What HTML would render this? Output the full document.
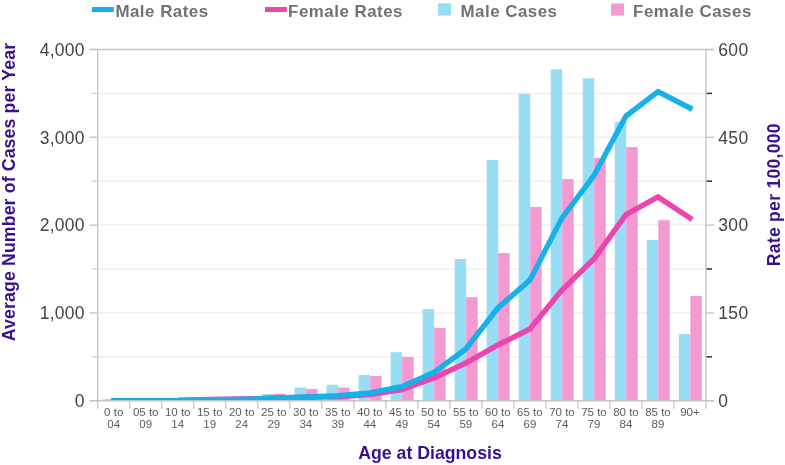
<!DOCTYPE html>
<html><head><meta charset="utf-8"><style>
html,body{margin:0;padding:0;background:#fff;}
body{width:785px;height:465px;overflow:hidden;}
svg{display:block;will-change:transform;}
text{font-family:"Liberation Sans",sans-serif;}
</style></head><body>
<svg width="785" height="465" viewBox="0 0 785 465">

<line x1="97.7" y1="356.8" x2="706" y2="356.8" stroke="#efefef" stroke-width="1.5"/>
<line x1="97.7" y1="312.9" x2="706" y2="312.9" stroke="#efefef" stroke-width="1.5"/>
<line x1="97.7" y1="269" x2="706" y2="269" stroke="#efefef" stroke-width="1.5"/>
<line x1="97.7" y1="225.1" x2="706" y2="225.1" stroke="#efefef" stroke-width="1.5"/>
<line x1="97.7" y1="181.2" x2="706" y2="181.2" stroke="#efefef" stroke-width="1.5"/>
<line x1="97.7" y1="137.3" x2="706" y2="137.3" stroke="#efefef" stroke-width="1.5"/>
<line x1="97.7" y1="93.4" x2="706" y2="93.4" stroke="#efefef" stroke-width="1.5"/>
<line x1="89.7" y1="49.5" x2="714" y2="49.5" stroke="#c6c6c6" stroke-width="1.4"/>
<rect x="102.5" y="399.12" width="11.5" height="1.58" fill="#97ddf5"/>
<rect x="114" y="399.65" width="11.5" height="1.05" fill="#f49ad2"/>
<rect x="134.52" y="400" width="11.5" height="0.7" fill="#97ddf5"/>
<rect x="146.02" y="400.17" width="11.5" height="0.53" fill="#f49ad2"/>
<rect x="166.53" y="400" width="11.5" height="0.7" fill="#97ddf5"/>
<rect x="178.03" y="400" width="11.5" height="0.7" fill="#f49ad2"/>
<rect x="198.55" y="399.38" width="11.5" height="1.32" fill="#97ddf5"/>
<rect x="210.05" y="398.94" width="11.5" height="1.76" fill="#f49ad2"/>
<rect x="230.56" y="398.07" width="11.5" height="2.63" fill="#97ddf5"/>
<rect x="242.06" y="397.19" width="11.5" height="3.51" fill="#f49ad2"/>
<rect x="262.58" y="394.03" width="11.5" height="6.67" fill="#97ddf5"/>
<rect x="274.08" y="393.68" width="11.5" height="7.02" fill="#f49ad2"/>
<rect x="294.59" y="387.53" width="11.5" height="13.17" fill="#97ddf5"/>
<rect x="306.09" y="388.93" width="11.5" height="11.77" fill="#f49ad2"/>
<rect x="326.61" y="384.81" width="11.5" height="15.89" fill="#97ddf5"/>
<rect x="338.11" y="387.53" width="11.5" height="13.17" fill="#f49ad2"/>
<rect x="358.63" y="374.97" width="11.5" height="25.73" fill="#97ddf5"/>
<rect x="370.13" y="376.03" width="11.5" height="24.67" fill="#f49ad2"/>
<rect x="390.64" y="352.15" width="11.5" height="48.55" fill="#97ddf5"/>
<rect x="402.14" y="357.06" width="11.5" height="43.64" fill="#f49ad2"/>
<rect x="422.66" y="308.95" width="11.5" height="91.75" fill="#97ddf5"/>
<rect x="434.16" y="327.83" width="11.5" height="72.87" fill="#f49ad2"/>
<rect x="454.67" y="258.99" width="11.5" height="141.71" fill="#97ddf5"/>
<rect x="466.17" y="297.27" width="11.5" height="103.43" fill="#f49ad2"/>
<rect x="486.69" y="160.04" width="11.5" height="240.66" fill="#97ddf5"/>
<rect x="498.19" y="253.02" width="11.5" height="147.68" fill="#f49ad2"/>
<rect x="518.71" y="93.84" width="11.5" height="306.86" fill="#97ddf5"/>
<rect x="530.21" y="207.01" width="11.5" height="193.69" fill="#f49ad2"/>
<rect x="550.72" y="69.34" width="11.5" height="331.36" fill="#97ddf5"/>
<rect x="562.22" y="179" width="11.5" height="221.69" fill="#f49ad2"/>
<rect x="582.74" y="78.3" width="11.5" height="322.4" fill="#97ddf5"/>
<rect x="594.24" y="157.93" width="11.5" height="242.77" fill="#f49ad2"/>
<rect x="614.75" y="122.02" width="11.5" height="278.68" fill="#97ddf5"/>
<rect x="626.25" y="147.05" width="11.5" height="253.65" fill="#f49ad2"/>
<rect x="646.77" y="240.03" width="11.5" height="160.67" fill="#97ddf5"/>
<rect x="658.27" y="220.18" width="11.5" height="180.52" fill="#f49ad2"/>
<rect x="678.78" y="333.97" width="11.5" height="66.73" fill="#97ddf5"/>
<rect x="690.28" y="296.04" width="11.5" height="104.66" fill="#f49ad2"/>
<defs><clipPath id="pc"><rect x="0" y="0" width="785" height="400.3"/></clipPath></defs><g clip-path="url(#pc)">
<polyline points="113.71,400.58 145.72,400.58 177.74,400.47 209.76,399.35 241.77,399.06 273.79,398.07 305.8,397.31 337.82,396.9 369.83,394.61 401.85,389.58 433.87,377.99 465.88,363 497.9,344.98 529.91,329 561.93,290.07 593.94,259.05 625.96,214.56 657.98,197 689.99,218.08" fill="none" stroke="#ea46ae" stroke-width="5.4" stroke-linejoin="miter" stroke-linecap="square"/>
<polyline points="113.71,400.58 145.72,400.58 177.74,400.52 209.76,399.65 241.77,399.35 273.79,398.36 305.8,397.01 337.82,395.78 369.83,392.97 401.85,386.65 433.87,372.43 465.88,349.02 497.9,307.98 529.91,280.12 561.93,218.08 593.94,175.58 625.96,115.99 657.98,91.64 689.99,108.03" fill="none" stroke="#18b0e8" stroke-width="5.4" stroke-linejoin="miter" stroke-linecap="square"/>
</g>
<line x1="97.7" y1="49.5" x2="97.7" y2="408.7" stroke="#c6c6c6" stroke-width="1.4"/>
<line x1="706" y1="49.5" x2="706" y2="408.7" stroke="#c6c6c6" stroke-width="1.4"/>
<line x1="89.7" y1="400.7" x2="714" y2="400.7" stroke="#c6c6c6" stroke-width="1.4"/>
<line x1="89.7" y1="400.7" x2="97.7" y2="400.7" stroke="#c6c6c6" stroke-width="1.4"/>
<line x1="91.7" y1="356.8" x2="97.7" y2="356.8" stroke="#cdcdcd" stroke-width="1.3"/>
<line x1="89.7" y1="312.9" x2="97.7" y2="312.9" stroke="#c6c6c6" stroke-width="1.4"/>
<line x1="91.7" y1="269" x2="97.7" y2="269" stroke="#cdcdcd" stroke-width="1.3"/>
<line x1="89.7" y1="225.1" x2="97.7" y2="225.1" stroke="#c6c6c6" stroke-width="1.4"/>
<line x1="91.7" y1="181.2" x2="97.7" y2="181.2" stroke="#cdcdcd" stroke-width="1.3"/>
<line x1="89.7" y1="137.3" x2="97.7" y2="137.3" stroke="#c6c6c6" stroke-width="1.4"/>
<line x1="91.7" y1="93.4" x2="97.7" y2="93.4" stroke="#cdcdcd" stroke-width="1.3"/>
<line x1="89.7" y1="49.5" x2="97.7" y2="49.5" stroke="#c6c6c6" stroke-width="1.4"/>
<line x1="706" y1="400.7" x2="714" y2="400.7" stroke="#c6c6c6" stroke-width="1.4"/>
<line x1="706.7" y1="356.8" x2="712" y2="356.8" stroke="#383070" stroke-width="1.6"/>
<line x1="706" y1="312.9" x2="714" y2="312.9" stroke="#c6c6c6" stroke-width="1.4"/>
<line x1="706.7" y1="269" x2="712" y2="269" stroke="#383070" stroke-width="1.6"/>
<line x1="706" y1="225.1" x2="714" y2="225.1" stroke="#c6c6c6" stroke-width="1.4"/>
<line x1="706.7" y1="181.2" x2="712" y2="181.2" stroke="#383070" stroke-width="1.6"/>
<line x1="706" y1="137.3" x2="714" y2="137.3" stroke="#c6c6c6" stroke-width="1.4"/>
<line x1="706.7" y1="93.4" x2="712" y2="93.4" stroke="#383070" stroke-width="1.6"/>
<line x1="706" y1="49.5" x2="714" y2="49.5" stroke="#c6c6c6" stroke-width="1.4"/>
<line x1="129.72" y1="400.7" x2="129.72" y2="408.7" stroke="#c6c6c6" stroke-width="1.4"/>
<line x1="161.73" y1="400.7" x2="161.73" y2="408.7" stroke="#c6c6c6" stroke-width="1.4"/>
<line x1="193.75" y1="400.7" x2="193.75" y2="408.7" stroke="#c6c6c6" stroke-width="1.4"/>
<line x1="225.76" y1="400.7" x2="225.76" y2="408.7" stroke="#c6c6c6" stroke-width="1.4"/>
<line x1="257.78" y1="400.7" x2="257.78" y2="408.7" stroke="#c6c6c6" stroke-width="1.4"/>
<line x1="289.79" y1="400.7" x2="289.79" y2="408.7" stroke="#c6c6c6" stroke-width="1.4"/>
<line x1="321.81" y1="400.7" x2="321.81" y2="408.7" stroke="#c6c6c6" stroke-width="1.4"/>
<line x1="353.83" y1="400.7" x2="353.83" y2="408.7" stroke="#c6c6c6" stroke-width="1.4"/>
<line x1="385.84" y1="400.7" x2="385.84" y2="408.7" stroke="#c6c6c6" stroke-width="1.4"/>
<line x1="417.86" y1="400.7" x2="417.86" y2="408.7" stroke="#c6c6c6" stroke-width="1.4"/>
<line x1="449.87" y1="400.7" x2="449.87" y2="408.7" stroke="#c6c6c6" stroke-width="1.4"/>
<line x1="481.89" y1="400.7" x2="481.89" y2="408.7" stroke="#c6c6c6" stroke-width="1.4"/>
<line x1="513.91" y1="400.7" x2="513.91" y2="408.7" stroke="#c6c6c6" stroke-width="1.4"/>
<line x1="545.92" y1="400.7" x2="545.92" y2="408.7" stroke="#c6c6c6" stroke-width="1.4"/>
<line x1="577.94" y1="400.7" x2="577.94" y2="408.7" stroke="#c6c6c6" stroke-width="1.4"/>
<line x1="609.95" y1="400.7" x2="609.95" y2="408.7" stroke="#c6c6c6" stroke-width="1.4"/>
<line x1="641.97" y1="400.7" x2="641.97" y2="408.7" stroke="#c6c6c6" stroke-width="1.4"/>
<line x1="673.98" y1="400.7" x2="673.98" y2="408.7" stroke="#c6c6c6" stroke-width="1.4"/>
<text x="84.6" y="406.9" font-size="17.5" letter-spacing="0.2" fill="#444444" text-anchor="end">0</text>
<text x="84.6" y="319.1" font-size="17.5" letter-spacing="0.2" fill="#444444" text-anchor="end">1,000</text>
<text x="84.6" y="231.3" font-size="17.5" letter-spacing="0.2" fill="#444444" text-anchor="end">2,000</text>
<text x="84.6" y="143.5" font-size="17.5" letter-spacing="0.2" fill="#444444" text-anchor="end">3,000</text>
<text x="84.6" y="55.7" font-size="17.5" letter-spacing="0.2" fill="#444444" text-anchor="end">4,000</text>
<text x="718.2" y="406.9" font-size="17.5" letter-spacing="0.4" fill="#444444">0</text>
<text x="718.2" y="319.1" font-size="17.5" letter-spacing="0.4" fill="#444444">150</text>
<text x="718.2" y="231.3" font-size="17.5" letter-spacing="0.4" fill="#444444">300</text>
<text x="718.2" y="143.5" font-size="17.5" letter-spacing="0.4" fill="#444444">450</text>
<text x="718.2" y="55.7" font-size="17.5" letter-spacing="0.4" fill="#444444">600</text>
<text x="113.71" y="415.8" font-size="11.5" fill="#5c5c5c" text-anchor="middle">0 to</text>
<text x="113.71" y="428.2" font-size="11.5" fill="#5c5c5c" text-anchor="middle">04</text>
<text x="145.72" y="415.8" font-size="11.5" fill="#5c5c5c" text-anchor="middle">05 to</text>
<text x="145.72" y="428.2" font-size="11.5" fill="#5c5c5c" text-anchor="middle">09</text>
<text x="177.74" y="415.8" font-size="11.5" fill="#5c5c5c" text-anchor="middle">10 to</text>
<text x="177.74" y="428.2" font-size="11.5" fill="#5c5c5c" text-anchor="middle">14</text>
<text x="209.76" y="415.8" font-size="11.5" fill="#5c5c5c" text-anchor="middle">15 to</text>
<text x="209.76" y="428.2" font-size="11.5" fill="#5c5c5c" text-anchor="middle">19</text>
<text x="241.77" y="415.8" font-size="11.5" fill="#5c5c5c" text-anchor="middle">20 to</text>
<text x="241.77" y="428.2" font-size="11.5" fill="#5c5c5c" text-anchor="middle">24</text>
<text x="273.79" y="415.8" font-size="11.5" fill="#5c5c5c" text-anchor="middle">25 to</text>
<text x="273.79" y="428.2" font-size="11.5" fill="#5c5c5c" text-anchor="middle">29</text>
<text x="305.8" y="415.8" font-size="11.5" fill="#5c5c5c" text-anchor="middle">30 to</text>
<text x="305.8" y="428.2" font-size="11.5" fill="#5c5c5c" text-anchor="middle">34</text>
<text x="337.82" y="415.8" font-size="11.5" fill="#5c5c5c" text-anchor="middle">35 to</text>
<text x="337.82" y="428.2" font-size="11.5" fill="#5c5c5c" text-anchor="middle">39</text>
<text x="369.83" y="415.8" font-size="11.5" fill="#5c5c5c" text-anchor="middle">40 to</text>
<text x="369.83" y="428.2" font-size="11.5" fill="#5c5c5c" text-anchor="middle">44</text>
<text x="401.85" y="415.8" font-size="11.5" fill="#5c5c5c" text-anchor="middle">45 to</text>
<text x="401.85" y="428.2" font-size="11.5" fill="#5c5c5c" text-anchor="middle">49</text>
<text x="433.87" y="415.8" font-size="11.5" fill="#5c5c5c" text-anchor="middle">50 to</text>
<text x="433.87" y="428.2" font-size="11.5" fill="#5c5c5c" text-anchor="middle">54</text>
<text x="465.88" y="415.8" font-size="11.5" fill="#5c5c5c" text-anchor="middle">55 to</text>
<text x="465.88" y="428.2" font-size="11.5" fill="#5c5c5c" text-anchor="middle">59</text>
<text x="497.9" y="415.8" font-size="11.5" fill="#5c5c5c" text-anchor="middle">60 to</text>
<text x="497.9" y="428.2" font-size="11.5" fill="#5c5c5c" text-anchor="middle">64</text>
<text x="529.91" y="415.8" font-size="11.5" fill="#5c5c5c" text-anchor="middle">65 to</text>
<text x="529.91" y="428.2" font-size="11.5" fill="#5c5c5c" text-anchor="middle">69</text>
<text x="561.93" y="415.8" font-size="11.5" fill="#5c5c5c" text-anchor="middle">70 to</text>
<text x="561.93" y="428.2" font-size="11.5" fill="#5c5c5c" text-anchor="middle">74</text>
<text x="593.94" y="415.8" font-size="11.5" fill="#5c5c5c" text-anchor="middle">75 to</text>
<text x="593.94" y="428.2" font-size="11.5" fill="#5c5c5c" text-anchor="middle">79</text>
<text x="625.96" y="415.8" font-size="11.5" fill="#5c5c5c" text-anchor="middle">80 to</text>
<text x="625.96" y="428.2" font-size="11.5" fill="#5c5c5c" text-anchor="middle">84</text>
<text x="657.98" y="415.8" font-size="11.5" fill="#5c5c5c" text-anchor="middle">85 to</text>
<text x="657.98" y="428.2" font-size="11.5" fill="#5c5c5c" text-anchor="middle">89</text>
<text x="689.99" y="415.8" font-size="11.5" fill="#5c5c5c" text-anchor="middle">90+</text>
<text transform="translate(14.5,192) rotate(-90)" font-size="17.7" letter-spacing="0.14" font-weight="bold" fill="#390f90" text-anchor="middle">Average Number of Cases per Year</text>
<text transform="translate(779.5,194.7) rotate(-90)" font-size="17.5" letter-spacing="0.3" font-weight="bold" fill="#390f90" text-anchor="middle">Rate per 100,000</text>
<text x="430" y="458.7" font-size="17.7" font-weight="bold" fill="#390f90" text-anchor="middle">Age at Diagnosis</text>
<rect x="92" y="7" width="21.8" height="5" fill="#18b0e8"/>
<text x="115.4" y="17" font-size="16.9" letter-spacing="0.5" font-weight="bold" fill="#727272">Male Rates</text>
<rect x="265" y="7" width="21.8" height="5" fill="#ea46ae"/>
<text x="288.1" y="17" font-size="16.9" letter-spacing="0.5" font-weight="bold" fill="#727272">Female Rates</text>
<rect x="438" y="3.4" width="13" height="12.2" fill="#97ddf5"/>
<text x="460.5" y="17" font-size="16.9" letter-spacing="0.5" font-weight="bold" fill="#727272">Male Cases</text>
<rect x="611" y="3.4" width="13" height="12.2" fill="#f49ad2"/>
<text x="633.1" y="17" font-size="16.9" letter-spacing="0.5" font-weight="bold" fill="#727272">Female Cases</text>
</svg>
</body></html>
